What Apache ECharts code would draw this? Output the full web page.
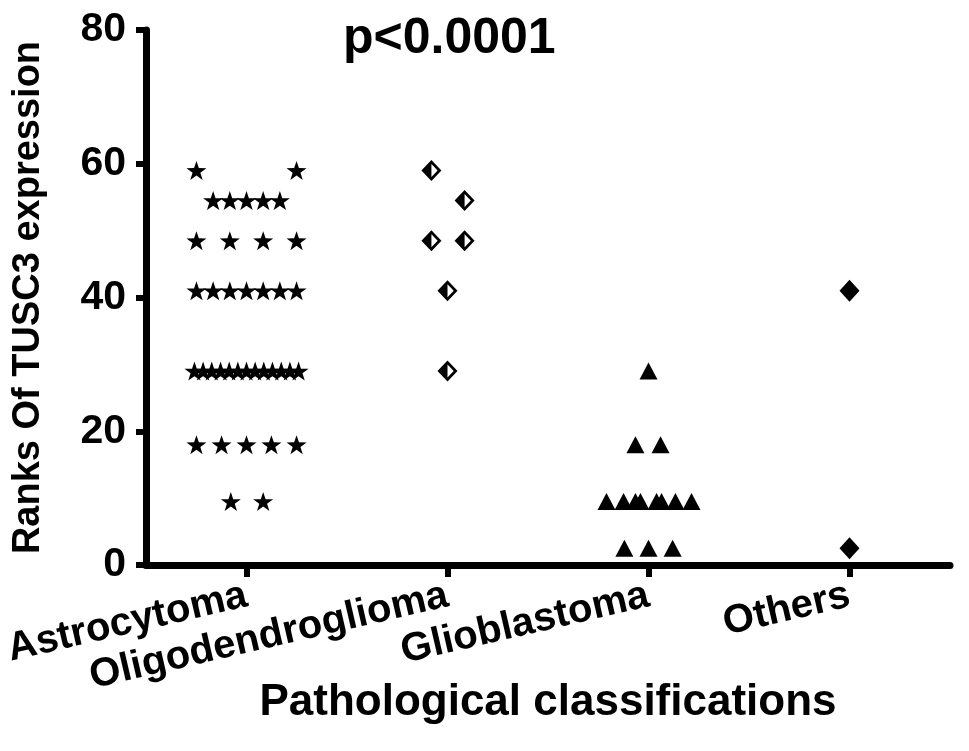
<!DOCTYPE html>
<html>
<head>
<meta charset="utf-8">
<script src="https://cdn.jsdelivr.net/npm/echarts@6/dist/echarts.min.js"></script>
<style>
html,body{margin:0;padding:0;background:#fff;}
#chart{width:969px;height:751px;}
</style>
</head>
<body>
<div id="chart"></div>
<script>
// ---- data ----
const categories = ['Astrocytoma', 'Oligodendroglioma', 'Glioblastoma', 'Others'];
const yTickValues = [0, 20, 40, 60, 80];
const titleText = 'p<0.0001';

// Astrocytoma (category 1): ranks and horizontal scatter offsets (in category units)
const astroRank = [59, 59,
  54.5, 54.5, 54.5, 54.5, 54.5,
  48.5, 48.5, 48.5, 48.5,
  41, 41, 41, 41, 41, 41, 41,
  29, 29, 29, 29, 29, 29, 29, 29, 29, 29, 29, 29, 29,
  18, 18, 18, 18, 18,
  9.5, 9.5];
const astroOffset = [-0.249, 0.249,
  -0.166, -0.083, 0, 0.083, 0.166,
  -0.249, -0.083, 0.083, 0.249,
  -0.249, -0.166, -0.083, 0, 0.083, 0.166, 0.249,
  -0.259, -0.216, -0.173, -0.129, -0.086, -0.043, 0, 0.043, 0.086, 0.129, 0.173, 0.216, 0.259,
  -0.249, -0.124, 0, 0.124, 0.249,
  -0.078, 0.083];

// Oligodendroglioma (category 2)
const oligoRank = [59, 54.5, 48.5, 48.5, 41, 29];
const oligoOffset = [-0.08, 0.085, -0.08, 0.085, 0, 0];

// Glioblastoma (category 3)
const glioRank = [29, 18, 18, 9.5, 9.5, 9.5, 9.5, 9.5, 9.5, 9.5, 9.5, 2.5, 2.5, 2.5];
const glioOffset = [0, -0.065, 0.06, -0.209, -0.124, -0.065, -0.04, 0.04, 0.065, 0.134, 0.214, -0.12, 0, 0.12];

// Others (category 4)
const otherRank = [41, 2.5];
const otherOffset = [0, 0];

// ---- build ----
function pts(catIndex, offsets, ranks) {
  return ranks.map((r, i) => [catIndex + 1 + offsets[i], r]);
}

const STAR = 'path://M10,0 L12.29,6.84 L19.51,6.91 L13.71,11.21 L15.88,18.09 L10,13.9 L4.12,18.09 L6.29,11.21 L0.49,6.91 L7.71,6.84 Z';
const HALF_DIAMOND = 'path://M10,0 L20,10 L10,20 L0,10 Z M10,3.8 L10,16.2 L16.2,10 Z';

const FONT = 'Arial, "Liberation Sans", sans-serif';

const chart = echarts.init(document.getElementById('chart'), null, {renderer: 'canvas'});
chart.setOption({
  backgroundColor: '#ffffff',
  animation: false,
  title: {
    text: titleText,
    left: 338,
    top: 9,
    textStyle: {fontFamily: FONT, fontWeight: 'bold', fontSize: 50, color: '#000'}
  },
  grid: {left: 146, right: 19, top: 30, bottom: 186, containLabel: false, outerBoundsMode: 'none'},
  xAxis: [
    {
      type: 'category',
      data: categories,
      boundaryGap: true,
      position: 'bottom',
      axisLine: {show: true, lineStyle: {color: '#000', width: 7}},
      axisTick: {show: true, alignWithLabel: true, length: 12, lineStyle: {color: '#000', width: 6}},
      axisLabel: {
        show: true, interval: 0, rotate: 13, margin: 30,
        fontFamily: FONT, fontWeight: 'bold', fontSize: 40, color: '#000'
      },
      name: 'Pathological classifications',
      nameLocation: 'middle',
      nameGap: 116,
      nameMoveOverlap: false,
      nameTextStyle: {fontFamily: FONT, fontWeight: 'bold', fontSize: 44, color: '#000'},
      splitLine: {show: false}
    },
    {
      type: 'value',
      min: 0.5, max: 4.5,
      show: false,
      position: 'bottom'
    }
  ],
  yAxis: {
    type: 'value',
    min: yTickValues[0],
    max: yTickValues[yTickValues.length - 1],
    interval: yTickValues[1] - yTickValues[0],
    axisLine: {show: true, lineStyle: {color: '#000', width: 7}},
    axisTick: {show: true, length: 10, lineStyle: {color: '#000', width: 6}},
    axisLabel: {margin: 20, fontFamily: FONT, fontWeight: 'bold', fontSize: 41, color: '#000'},
    splitLine: {show: false},
    name: 'Ranks Of TUSC3 expression',
    nameLocation: 'middle',
    nameGap: 98,
    nameRotate: 90,
    nameMoveOverlap: false,
    nameTextStyle: {fontFamily: FONT, fontWeight: 'bold', fontSize: 38, color: '#000'}
  },
  series: [
    {
      type: 'scatter', xAxisIndex: 1, name: categories[0],
      symbol: STAR, symbolSize: [20, 19],
      itemStyle: {color: '#000', opacity: 1},
      data: pts(0, astroOffset, astroRank)
    },
    {
      type: 'scatter', xAxisIndex: 1, name: categories[1],
      symbol: HALF_DIAMOND, symbolSize: [20, 21],
      itemStyle: {color: '#000', opacity: 1},
      data: pts(1, oligoOffset, oligoRank)
    },
    {
      type: 'scatter', xAxisIndex: 1, name: categories[2],
      symbol: 'triangle', symbolSize: [18, 17],
      itemStyle: {color: '#000', opacity: 1},
      data: pts(2, glioOffset, glioRank)
    },
    {
      type: 'scatter', xAxisIndex: 1, name: categories[3],
      symbol: 'diamond', symbolSize: [20, 22],
      itemStyle: {color: '#000', opacity: 1},
      data: pts(3, otherOffset, otherRank)
    }
  ]
});
</script>
</body>
</html>
